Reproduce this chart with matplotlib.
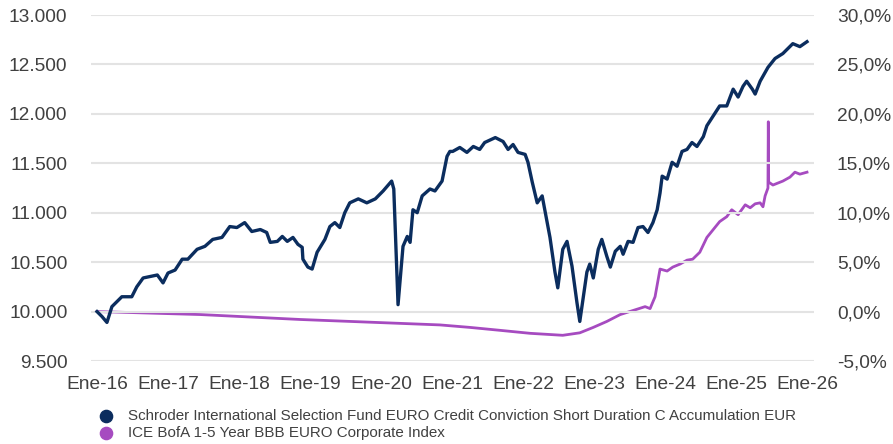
import matplotlib
matplotlib.use("Agg")
import matplotlib.pyplot as plt
from matplotlib.ticker import FuncFormatter, FixedLocator
from matplotlib.lines import Line2D

plt.rcParams['font.family'] = ['Liberation Sans', 'DejaVu Sans']

# Fund (left axis, value of 10,000 invested) - decimal years
fund_t = [2016.00, 2016.07, 2016.14, 2016.21, 2016.35, 2016.49, 2016.56, 2016.65, 2016.85, 2016.93,
          2017.00, 2017.10, 2017.20, 2017.28, 2017.41, 2017.52, 2017.63, 2017.76, 2017.87, 2017.97,
          2018.08, 2018.18, 2018.30, 2018.39, 2018.44, 2018.54, 2018.61, 2018.68, 2018.76, 2018.83,
          2018.89, 2018.90, 2018.97, 2019.03, 2019.10, 2019.21, 2019.28, 2019.35, 2019.42, 2019.49,
          2019.56, 2019.68, 2019.80, 2019.92, 2020.03, 2020.15, 2020.18, 2020.24, 2020.27, 2020.31,
          2020.37, 2020.41, 2020.45, 2020.51, 2020.58, 2020.69, 2020.76, 2020.86, 2020.93, 2020.97,
          2021.01, 2021.11, 2021.21, 2021.30, 2021.39, 2021.46, 2021.61, 2021.72, 2021.79, 2021.86,
          2021.93, 2022.03, 2022.07, 2022.13, 2022.20, 2022.27, 2022.34, 2022.38, 2022.45, 2022.49,
          2022.56, 2022.62, 2022.69, 2022.76, 2022.80, 2022.90, 2022.94, 2022.99, 2023.06, 2023.11,
          2023.18, 2023.23, 2023.30, 2023.37, 2023.41, 2023.48, 2023.55, 2023.62, 2023.69, 2023.76,
          2023.83, 2023.89, 2023.93, 2023.96, 2024.03, 2024.10, 2024.17, 2024.24, 2024.31, 2024.38,
          2024.45, 2024.54, 2024.59, 2024.68, 2024.77, 2024.87, 2024.96, 2025.03, 2025.10, 2025.15,
          2025.23, 2025.27, 2025.34, 2025.45, 2025.55, 2025.66, 2025.80, 2025.90, 2026.00]
fund_v = [10000, 9950, 9890, 10050, 10150, 10150, 10250, 10340, 10370, 10290,
          10390, 10420, 10530, 10530, 10630, 10660, 10730, 10750, 10860, 10850,
          10900, 10810, 10830, 10800, 10700, 10710, 10760, 10710, 10750, 10680,
          10650, 10530, 10450, 10430, 10600, 10730, 10860, 10900, 10850, 11000,
          11100, 11140, 11100, 11140, 11220, 11320, 11240, 10070, 10320, 10660,
          10760, 10700, 11030, 11000, 11170, 11240, 11220, 11320, 11570, 11620,
          11620, 11660, 11610, 11670, 11640, 11710, 11760, 11720, 11640, 11690,
          11610, 11590, 11510, 11310, 11100, 11170, 10900, 10750, 10400, 10240,
          10630, 10710, 10460, 10090, 9900, 10400, 10480, 10340, 10630, 10730,
          10560, 10450, 10610, 10660, 10580, 10710, 10700, 10850, 10860, 10800,
          10900, 11030, 11200, 11370, 11340, 11510, 11470, 11620, 11640, 11710,
          11670, 11770, 11880, 11980, 12080, 12080, 12250, 12170, 12280, 12330,
          12250, 12200, 12330, 12470, 12560, 12610, 12710, 12680, 12730]

# Index (right axis, %)
index_t = [2016.00, 2017.45, 2018.86, 2020.83, 2021.25, 2021.68, 2022.10, 2022.56, 2022.80, 2022.99,
           2023.18, 2023.37, 2023.59, 2023.72, 2023.79, 2023.86, 2023.93, 2024.03, 2024.11, 2024.21,
           2024.31, 2024.39, 2024.49, 2024.59, 2024.68, 2024.77, 2024.87, 2024.94, 2025.03, 2025.13,
           2025.20, 2025.27, 2025.34, 2025.38, 2025.41, 2025.45, 2025.455, 2025.46, 2025.52, 2025.66,
           2025.76, 2025.83, 2025.90, 2026.00]
index_v = [0.0, -0.3, -0.8, -1.35, -1.6, -1.9, -2.2, -2.4, -2.15, -1.6,
           -1.0, -0.3, 0.2, 0.5, 0.3, 1.5, 4.3, 4.1, 4.5, 4.8,
           5.2, 5.3, 6.0, 7.5, 8.3, 9.1, 9.6, 10.3, 9.8, 10.8,
           10.5, 10.9, 11.0, 10.6, 11.7, 12.5, 19.2, 13.1, 12.8, 13.2,
           13.6, 14.1, 13.9, 14.1]

year_ticks = list(range(2016, 2027))
year_labels = ['Ene-16', 'Ene-17', 'Ene-18', 'Ene-19', 'Ene-20', 'Ene-21',
               'Ene-22', 'Ene-23', 'Ene-24', 'Ene-25', 'Ene-26']

fund_name = 'Schroder International Selection Fund EURO Credit Conviction Short Duration C Accumulation EUR'
index_name = 'ICE BofA 1-5 Year BBB EURO Corporate Index'

NAVY = '#0b2d5e'
PURPLE = '#a64bc0'
TXT = '#404040'

fig = plt.figure(figsize=(8.93, 4.44), dpi=100)
W, H = 893, 444
ax = fig.add_axes([91 / W, 1 - 361 / H, (814 - 91) / W, (361 - 15) / H])
ax2 = ax.twinx()

ax.set_ylim(9500, 13000)
ax2.set_ylim(-5, 30)
ax.set_xlim(2016 - 6 / 71, 2026 + 7 / 71)

ax.yaxis.set_major_locator(FixedLocator([9500, 10000, 10500, 11000, 11500, 12000, 12500, 13000]))
ax.yaxis.set_major_formatter(FuncFormatter(lambda v, p: f'{int(round(v)):,}'.replace(',', '.')))
ax2.yaxis.set_major_locator(FixedLocator([-5, 0, 5, 10, 15, 20, 25, 30]))
ax2.yaxis.set_major_formatter(FuncFormatter(lambda v, p: f'{v:.1f}%'.replace('.', ',')))

ax.set_xticks(year_ticks)
ax.set_xticklabels(year_labels)

ax.grid(axis='y', color='#e3e3e3', linewidth=1.5)
ax.set_axisbelow(True)
for a in (ax, ax2):
    for s in a.spines.values():
        s.set_visible(False)
    a.tick_params(length=0, labelsize=13.8, labelcolor=TXT)
ax.tick_params(axis='y', pad=17)
ax2.tick_params(axis='y', pad=16.5)
ax.tick_params(axis='x', pad=11)

ax2.plot(index_t, index_v, color=PURPLE, lw=2.0, solid_joinstyle='round', zorder=2)
ax.plot(fund_t, fund_v, color=NAVY, lw=2.4, solid_joinstyle='round', zorder=3)
ax.set_zorder(ax2.get_zorder() + 1)
ax.patch.set_visible(False)

# Legend
for yy, col in ((416, NAVY), (433, PURPLE)):
    fig.add_artist(Line2D([106 / W], [1 - yy / H], marker='o', markersize=8.8,
                          markerfacecolor=col, markeredgecolor=col, linestyle='none',
                          transform=fig.transFigure))
fig.text(128 / W, 1 - 416 / H, fund_name, color=TXT, fontsize=10.9, ha='left', va='center')
fig.text(128 / W, 1 - 433 / H, index_name, color=TXT, fontsize=10.9, ha='left', va='center')

fig.savefig('out.png', dpi=100)
